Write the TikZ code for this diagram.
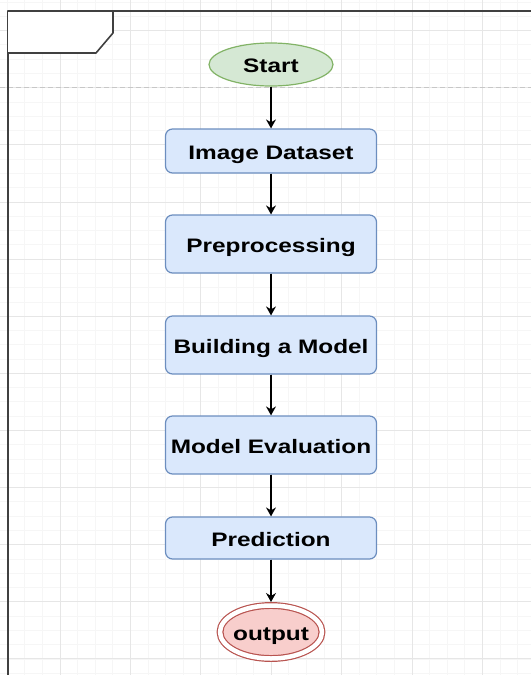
\documentclass[tikz,border=0pt]{standalone}
\usepackage{fontspec}
\newfontfamily\flowfont{Liberation Sans}[FakeStretch=1.25]
\usetikzlibrary{arrows.meta,shapes.geometric}
\definecolor{boxfill}{HTML}{DAE8FC}
\definecolor{boxline}{HTML}{6C8EBF}
\definecolor{startfill}{HTML}{D5E8D4}
\definecolor{startline}{HTML}{82B366}
\definecolor{endfill}{HTML}{F8CECC}
\definecolor{endline}{HTML}{B85450}
\definecolor{gridminor}{HTML}{F6F6F6}
\definecolor{gridmajor}{HTML}{E6E6E6}
\begin{document}
\begin{tikzpicture}[x=1pt,y=-1pt,>={Stealth[length=9pt,width=10pt,inset=3pt]},
    line join=round,
    font=\flowfont\bfseries\fontsize{19.5}{23}\selectfont,
    text height=16pt,text depth=0pt,
    stepbox/.style={draw=boxline,fill=boxfill,rounded corners=7pt,line width=1.2pt,
        minimum width=211pt,inner sep=0pt},
    terminal/.style={ellipse,draw=startline,fill=startfill,line width=1.2pt,
        minimum width=124pt,minimum height=43pt,inner sep=0pt},
    endnode/.style={ellipse,draw=endline,fill=endfill,line width=1.2pt,double,
        double distance=4.5pt,minimum width=102pt,minimum height=53pt,
        inner ysep=0pt,inner xsep=-3pt,outer sep=3.5pt},
    flow/.style={->,line width=1.5pt}]
    \def\W{531} \def\H{675}
    \useasboundingbox (0,0) rectangle (\W,\H);
    % background grid
    \foreach \i in {0,...,30}
    \draw[gridminor,line width=0.9pt] ({7.2+17.6*\i},0)--({7.2+17.6*\i},\H);
    \foreach \j in {0,...,47}
    \draw[gridminor,line width=0.9pt] (0,{2.1+14.28*\j})--(\W,{2.1+14.28*\j});
    \foreach \i in {0,...,6}
    \draw[gridmajor,line width=1pt] ({60+70.4*\i},0)--({60+70.4*\i},\H);
    \foreach \j in {0,...,11}
    \draw[gridmajor,line width=1pt] (0,{30.7+57.1*\j})--(\W,{30.7+57.1*\j});
    % pool frame
    \draw[black!22,dashed,dash pattern=on 5pt off 3pt] (0,87)--(\W,87);
    \draw[black!75,line width=2pt] (8,\H)--(8,11)--(\W,11);
    \draw[black!75,line width=1.6pt,fill=white] (8,11)--(113,11)--(113,33)--(96,53)--(8,53);
    % flow
    \node[terminal] (start) at (271,64.5) {Start};
    \node[stepbox,minimum height=44pt] (dataset) at (271,151) {Image Dataset};
    \node[stepbox,minimum height=58pt] (prep) at (271,244) {Preprocessing};
    \node[stepbox,minimum height=58pt] (build) at (271,345) {Building a Model};
    \node[stepbox,minimum height=58pt] (eval) at (271,445) {Model Evaluation};
    \node[stepbox,minimum height=42pt] (pred) at (271,538) {Prediction};
    \node[endnode] (output) at (271,632) {output};
    \foreach \a/\b in {start/dataset,dataset/prep,prep/build,build/eval,eval/pred,pred/output}
    \draw[flow] (\a)--(\b);
\end{tikzpicture}
\end{document}
